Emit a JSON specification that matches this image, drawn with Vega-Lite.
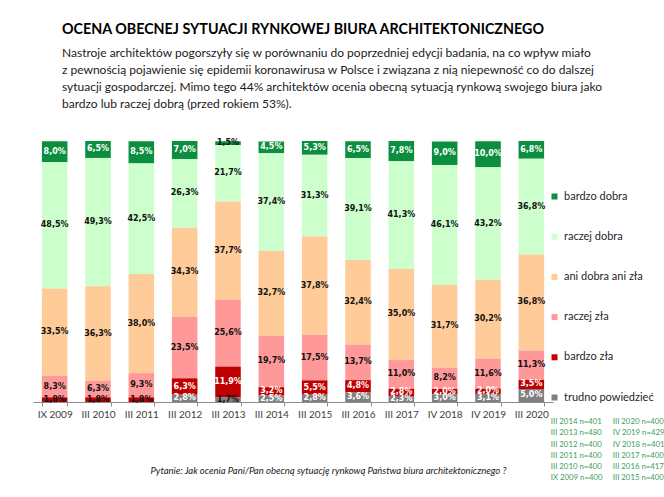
{
  "$schema": "https://vega.github.io/schema/vega-lite/v6.json",
  "autosize": {"type": "none"},
  "width": 520,
  "height": 261,
  "padding": {"left": 33, "top": 141, "right": 111, "bottom": 95},
  "background": "white",
  "title": {
    "text": "OCENA OBECNEJ SYTUACJI RYNKOWEJ BIURA ARCHITEKTONICZNEGO",
    "subtitle": [
      "Nastroje architektów pogorszyły się w porównaniu do poprzedniej edycji badania, na co wpływ miało",
      "z pewnością pojawienie się epidemii koronawirusa w Polsce i związana z nią niepewność co do dalszej",
      "sytuacji gospodarczej. Mimo tego 44% architektów ocenia obecną sytuacją rynkową swojego biura jako",
      "bardzo lub raczej dobrą (przed rokiem 53%)."
    ],
    "anchor": "start",
    "frame": "group",
    "dx": 29,
    "offset": 29,
    "font": "Lato",
    "fontSize": 14.3,
    "fontWeight": "bold",
    "color": "#000000",
    "subtitleFont": "Lato",
    "subtitleFontSize": 12,
    "subtitleColor": "#1a1a1a",
    "subtitleLineHeight": 17,
    "subtitlePadding": 11
  },
  "datasets": {
    "survey": [
      {"p": "IX 2009", "c": "bardzo dobra", "v": 8.0},
      {"p": "IX 2009", "c": "raczej dobra", "v": 48.5},
      {"p": "IX 2009", "c": "ani dobra ani zła", "v": 33.5},
      {"p": "IX 2009", "c": "raczej zła", "v": 8.3},
      {"p": "IX 2009", "c": "bardzo zła", "v": 1.8},
      {"p": "III 2010", "c": "bardzo dobra", "v": 6.5},
      {"p": "III 2010", "c": "raczej dobra", "v": 49.3},
      {"p": "III 2010", "c": "ani dobra ani zła", "v": 36.3},
      {"p": "III 2010", "c": "raczej zła", "v": 6.3},
      {"p": "III 2010", "c": "bardzo zła", "v": 1.8},
      {"p": "III 2011", "c": "bardzo dobra", "v": 8.5},
      {"p": "III 2011", "c": "raczej dobra", "v": 42.5},
      {"p": "III 2011", "c": "ani dobra ani zła", "v": 38.0},
      {"p": "III 2011", "c": "raczej zła", "v": 9.3},
      {"p": "III 2011", "c": "bardzo zła", "v": 1.8},
      {"p": "III 2012", "c": "bardzo dobra", "v": 7.0},
      {"p": "III 2012", "c": "raczej dobra", "v": 26.3},
      {"p": "III 2012", "c": "ani dobra ani zła", "v": 34.3},
      {"p": "III 2012", "c": "raczej zła", "v": 23.5},
      {"p": "III 2012", "c": "bardzo zła", "v": 6.3},
      {"p": "III 2012", "c": "trudno powiedzieć", "v": 2.8},
      {"p": "III 2013", "c": "bardzo dobra", "v": 1.5},
      {"p": "III 2013", "c": "raczej dobra", "v": 21.7},
      {"p": "III 2013", "c": "ani dobra ani zła", "v": 37.7},
      {"p": "III 2013", "c": "raczej zła", "v": 25.6},
      {"p": "III 2013", "c": "bardzo zła", "v": 11.9},
      {"p": "III 2013", "c": "trudno powiedzieć", "v": 1.7},
      {"p": "III 2014", "c": "bardzo dobra", "v": 4.5},
      {"p": "III 2014", "c": "raczej dobra", "v": 37.4},
      {"p": "III 2014", "c": "ani dobra ani zła", "v": 32.7},
      {"p": "III 2014", "c": "raczej zła", "v": 19.7},
      {"p": "III 2014", "c": "bardzo zła", "v": 3.2},
      {"p": "III 2014", "c": "trudno powiedzieć", "v": 2.5},
      {"p": "III 2015", "c": "bardzo dobra", "v": 5.3},
      {"p": "III 2015", "c": "raczej dobra", "v": 31.3},
      {"p": "III 2015", "c": "ani dobra ani zła", "v": 37.8},
      {"p": "III 2015", "c": "raczej zła", "v": 17.5},
      {"p": "III 2015", "c": "bardzo zła", "v": 5.5},
      {"p": "III 2015", "c": "trudno powiedzieć", "v": 2.8},
      {"p": "III 2016", "c": "bardzo dobra", "v": 6.5},
      {"p": "III 2016", "c": "raczej dobra", "v": 39.1},
      {"p": "III 2016", "c": "ani dobra ani zła", "v": 32.4},
      {"p": "III 2016", "c": "raczej zła", "v": 13.7},
      {"p": "III 2016", "c": "bardzo zła", "v": 4.8},
      {"p": "III 2016", "c": "trudno powiedzieć", "v": 3.6},
      {"p": "III 2017", "c": "bardzo dobra", "v": 7.8},
      {"p": "III 2017", "c": "raczej dobra", "v": 41.3},
      {"p": "III 2017", "c": "ani dobra ani zła", "v": 35.0},
      {"p": "III 2017", "c": "raczej zła", "v": 11.0},
      {"p": "III 2017", "c": "bardzo zła", "v": 2.8},
      {"p": "III 2017", "c": "trudno powiedzieć", "v": 2.3},
      {"p": "IV 2018", "c": "bardzo dobra", "v": 9.0},
      {"p": "IV 2018", "c": "raczej dobra", "v": 46.1},
      {"p": "IV 2018", "c": "ani dobra ani zła", "v": 31.7},
      {"p": "IV 2018", "c": "raczej zła", "v": 8.2},
      {"p": "IV 2018", "c": "bardzo zła", "v": 2.0},
      {"p": "IV 2018", "c": "trudno powiedzieć", "v": 3.0},
      {"p": "IV 2019", "c": "bardzo dobra", "v": 10.0},
      {"p": "IV 2019", "c": "raczej dobra", "v": 43.2},
      {"p": "IV 2019", "c": "ani dobra ani zła", "v": 30.2},
      {"p": "IV 2019", "c": "raczej zła", "v": 11.6},
      {"p": "IV 2019", "c": "bardzo zła", "v": 2.0},
      {"p": "IV 2019", "c": "trudno powiedzieć", "v": 3.1},
      {"p": "III 2020", "c": "bardzo dobra", "v": 6.8},
      {"p": "III 2020", "c": "raczej dobra", "v": 36.8},
      {"p": "III 2020", "c": "ani dobra ani zła", "v": 36.8},
      {"p": "III 2020", "c": "raczej zła", "v": 11.3},
      {"p": "III 2020", "c": "bardzo zła", "v": 3.5},
      {"p": "III 2020", "c": "trudno powiedzieć", "v": 5.0}
    ],
    "samples": [
      {"s": "III 2014 n=401"}, {"s": "III 2013 n=480"},
      {"s": "III 2012 n=400"}, {"s": "III 2011 n=400"},
      {"s": "III 2010 n=400"}, {"s": "IX 2009 n=400"},
      {"s": "III 2020 n=400"}, {"s": "IV 2019 n=429"},
      {"s": "IV 2018 n=401"}, {"s": "III 2017 n=400"},
      {"s": "III 2016 n=417"}, {"s": "III 2015 n=400"}
    ]
  },
  "layer": [
    {
      "data": {"name": "survey"},
      "transform": [
        {"calculate": "indexof(['trudno powiedzieć','bardzo zła','raczej zła','ani dobra ani zła','raczej dobra','bardzo dobra'], datum.c)", "as": "k"},
        {"stack": "v", "groupby": ["p"], "sort": [{"field": "k", "order": "ascending"}], "as": ["v0", "v1"]},
        {"calculate": "(datum.v0 + datum.v1) / 2", "as": "mid"},
        {"calculate": "replace(format(datum.v, '.1f'), '.', ',') + '%'", "as": "lbl"}
      ],
      "encoding": {
        "x": {
          "field": "p",
          "type": "nominal",
          "sort": ["IX 2009", "III 2010", "III 2011", "III 2012", "III 2013", "III 2014", "III 2015", "III 2016", "III 2017", "IV 2018", "IV 2019", "III 2020"],
          "scale": {"paddingInner": 0.41, "paddingOuter": 0.205},
          "axis": {
            "title": "Pytanie: Jak ocenia Pani/Pan obecną sytuację rynkową Państwa biura architektonicznego ?",
            "titleFont": "Lato",
            "titleFontStyle": "italic",
            "titleFontWeight": "normal",
            "titleFontSize": 9.5,
            "titleColor": "#1a1a1a",
            "titleX": 117,
            "titleY": 68,
            "titleAlign": "left",
            "titleBaseline": "middle",
            "labelAngle": 0,
            "labelFont": "Lato",
            "labelFontSize": 10,
            "labelColor": "#404040",
            "labelPadding": 3,
            "tickBand": "extent",
            "tickSize": 4,
            "tickColor": "#8c8c8c",
            "domainColor": "#8c8c8c"
          }
        }
      },
      "layer": [
        {
          "mark": {"type": "bar"},
          "encoding": {
            "y": {"field": "v0", "type": "quantitative", "scale": {"domain": [0, 100.2], "nice": false}, "axis": null},
            "y2": {"field": "v1"},
            "color": {
              "field": "c",
              "type": "nominal",
              "scale": {
                "domain": ["bardzo dobra", "raczej dobra", "ani dobra ani zła", "raczej zła", "bardzo zła", "trudno powiedzieć"],
                "range": ["#0B8F3E", "#CCFFCC", "#FFCC99", "#FF9999", "#C00000", "#808080"]
              },
              "legend": {
                "orient": "none",
                "legendX": 516,
                "legendY": 50,
                "title": null,
                "padding": 0,
                "symbolType": "square",
                "symbolSize": 36,
                "symbolStrokeWidth": 0,
                "labelFont": "Lato",
                "labelFontSize": 11,
                "labelColor": "#262626",
                "labelOffset": 4,
                "rowPadding": 28.2
              }
            }
          }
        },
        {
          "mark": {"type": "text", "font": "DejaVu Sans", "fontWeight": "bold", "fontSize": 8, "baseline": "middle"},
          "encoding": {
            "y": {"field": "mid", "type": "quantitative"},
            "text": {"field": "lbl"},
            "color": {
              "condition": {"test": "(datum.c == 'bardzo dobra' || datum.c == 'bardzo zła' || datum.c == 'trudno powiedzieć') && datum.v >= 2", "value": "#ffffff"},
              "value": "#111111"
            }
          }
        }
      ]
    },
    {
      "data": {"name": "samples"},
      "mark": {"type": "point", "opacity": 0},
      "encoding": {
        "shape": {
          "field": "s",
          "type": "nominal",
          "scale": {"domain": ["III 2014 n=401", "III 2013 n=480", "III 2012 n=400", "III 2011 n=400", "III 2010 n=400", "IX 2009 n=400", "III 2020 n=400", "IV 2019 n=429", "IV 2018 n=401", "III 2017 n=400", "III 2016 n=417", "III 2015 n=400"]},
          "legend": {
            "orient": "none",
            "legendX": 510,
            "legendY": 277,
            "title": null,
            "padding": 0,
            "columns": 2,
            "columnPadding": 2,
            "rowPadding": 2.3,
            "symbolSize": 0,
            "symbolOpacity": 0,
            "symbolStrokeWidth": 0,
            "labelOffset": 0,
            "labelFont": "Lato",
            "labelFontSize": 7.8,
            "labelColor": "#3C9D5D"
          }
        }
      }
    }
  ],
  "config": {
    "view": {"stroke": null}
  }
}
